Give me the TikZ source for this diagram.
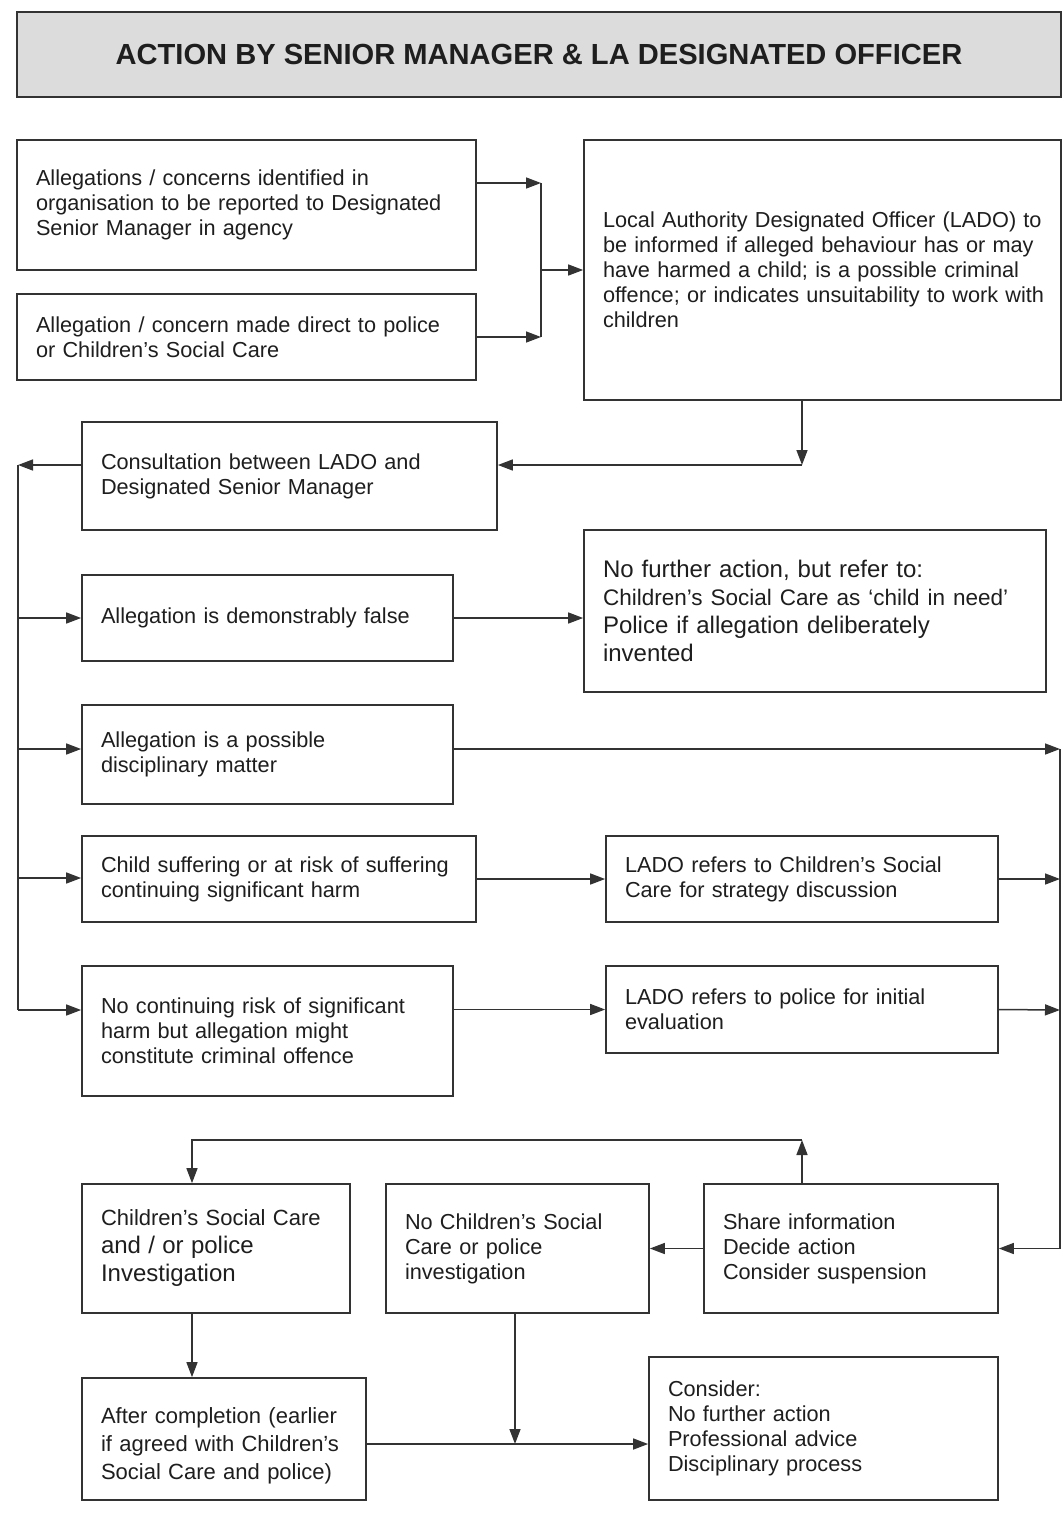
\documentclass[tikz,border=0pt]{standalone}
\usepackage{fontspec}
\setmainfont{Liberation Sans}
\usetikzlibrary{arrows.meta}
\definecolor{ln}{HTML}{333333}
\definecolor{tx}{HTML}{1E1E1E}
\definecolor{tgray}{HTML}{DCDCDC}
\newcommand\fsn{\fontsize{21.7}{25}\selectfont}
\newcommand\fsl{\fontsize{24}{28}\selectfont}
\newcommand\fsm{\fontsize{22}{28}\selectfont}
\begin{document}
\begin{tikzpicture}[x=1pt,y=-1pt,
  box/.style={draw=ln, line width=1.7pt, align=left, inner xsep=19pt, inner ysep=0pt,
    font=\fsn, text=tx},
  ttl/.style={draw=ln, line width=2pt, fill=tgray, inner sep=0pt,
    font=\fontsize{29.1}{32}\selectfont\bfseries, text=tx},
  arr/.style={draw=ln, line width=1.5pt, -{Triangle[length=15pt,width=11pt]}},
  ln/.style={draw=ln, line width=1.5pt}]
\useasboundingbox (0,0) rectangle (1063,1513);
\fill[white] (0,0) rectangle (1063,1513);

\node[ttl, minimum width=1044pt, minimum height=85pt] (title) at (539,54.5)
  {ACTION BY SENIOR MANAGER \& LA DESIGNATED OFFICER};

% boxes
\node[box, minimum width=459pt, minimum height=130pt, text width=421pt] (a1) at (246.5,205)
  {Allegations / concerns identified in\\organisation to be reported to Designated\\Senior Manager in agency};
\node[box, minimum width=459pt, minimum height=86pt, text width=421pt] (a2) at (246.5,337)
  {Allegation / concern made direct to police\\or Children’s Social Care};
\node[box, minimum width=477pt, minimum height=260pt, text width=439pt] (lado) at (822.5,270)
  {\mbox{Local Authority Designated Officer (LADO) to}\\\mbox{be informed if alleged behaviour has or may}\\\mbox{have harmed a child; is a possible criminal}\\\mbox{offence; or indicates unsuitability to work with}\\children};
\node[box, minimum width=415pt, minimum height=108pt, text width=377pt] (cons) at (289.5,476)
  {Consultation between LADO and\\Designated Senior Manager};
\node[box, minimum width=371pt, minimum height=86pt, text width=333pt] (fals) at (267.5,618)
  {Allegation is demonstrably false};
\node[box, minimum width=462pt, minimum height=162pt, text width=424pt, font=\fsl] (nfa) at (815,611)
  {\mbox{No further action, but refer to:}\\{\fontsize{22.5}{28}\selectfont\mbox{Children’s Social Care as ‘child in need’}}\\\mbox{Police if allegation deliberately}\\invented};
\node[box, minimum width=371pt, minimum height=99pt, text width=333pt] (disc) at (267.5,754.5)
  {Allegation is a possible\\disciplinary matter};
\node[box, minimum width=394pt, minimum height=86pt, text width=356pt] (child) at (279,879)
  {\mbox{Child suffering or at risk of suffering}\\continuing significant harm};
\node[box, minimum width=392pt, minimum height=86pt, text width=354pt] (ladocsc) at (802,879)
  {\mbox{LADO refers to Children’s Social}\\Care for strategy discussion};
\node[box, minimum width=371pt, minimum height=130pt, text width=333pt] (nocont) at (267.5,1031)
  {\mbox{No continuing risk of significant}\\harm but allegation might\\constitute criminal offence};
\node[box, minimum width=392pt, minimum height=87pt, text width=354pt] (ladopol) at (802,1009.5)
  {\mbox{LADO refers to police for initial}\\evaluation};
\node[box, minimum width=268pt, minimum height=129pt, text width=230pt, font=\fsm] (cscinv) at (216,1248.5)
  {\mbox{Children’s Social Care}\\{\fsl\mbox{and / or police}}\\{\fsl Investigation}};
\node[box, minimum width=263pt, minimum height=129pt, text width=225pt] (nocsc) at (517.5,1248.5)
  {\mbox{No Children’s Social}\\Care or police\\investigation};
\node[box, minimum width=294pt, minimum height=129pt, text width=256pt] (share) at (851,1248.5)
  {Share information\\Decide action\\Consider suspension};
\node[box, minimum width=284pt, minimum height=122pt, text width=246pt, font=\fsm] (after) at (224,1439)
  {\rule{0pt}{30pt}\mbox{After completion (earlier}\\\mbox{if agreed with Children’s}\\\mbox{Social Care and police)}};
\node[box, minimum width=349pt, minimum height=143pt, text width=311pt] (consider) at (823.5,1428.5)
  {Consider:\\No further action\\Professional advice\\Disciplinary process};

% junction coordinates
\coordinate (j1) at (541,183);
\coordinate (j2) at (541,337);
\coordinate (c1) at (802,465);
\coordinate (bL1) at (18,465);
\coordinate (bL2) at (18,618);
\coordinate (bL3) at (18,749);
\coordinate (bL4) at (18,878);
\coordinate (bL5) at (18,1010);
\coordinate (bR1) at (1060,749);
\coordinate (bR2) at (1060,879);
\coordinate (bR3) at (1060,1010);
\coordinate (bR4) at (1060,1248.5);
\coordinate (t1) at (802,1140);
\coordinate (t2) at (192,1140);
\coordinate (m1) at (515,1444);

% top merge
\draw[arr] (a1.east |- j1) -- (j1);
\draw[arr] (a2.east) -- (j2);
\draw[ln] (j1) -- (j2);
\draw[arr] (lado.west -| j1) -- (lado.west);

% LADO to consultation
\draw[arr] (lado.south -| c1) -- (c1);
\draw[arr] (c1) -- (cons.east |- c1);

% left bus
\draw[arr] (cons.west |- bL1) -- (bL1);
\draw[ln] (bL1) -- (bL5);
\draw[arr] (bL2) -- (fals.west |- bL2);
\draw[arr] (bL3) -- (disc.west |- bL3);
\draw[arr] (bL4) -- (child.west |- bL4);
\draw[arr] (bL5) -- (nocont.west |- bL5);

% middle row arrows
\draw[arr] (fals.east) -- (nfa.west |- fals.east);
\draw[arr] (disc.east |- bR1) -- (bR1);
\draw[arr] (child.east) -- (ladocsc.west);
\draw[arr] (ladocsc.east) -- (bR2);
\draw[arr] (nocont.east |- ladopol.west) -- (ladopol.west);
\draw[arr] (ladopol.east) -- (bR3);

% right bus
\draw[ln] (bR1) -- (bR4);
\draw[arr] (bR4) -- (share.east);

% bottom section
\draw[arr] (share.west) -- (nocsc.east);
\draw[arr] (share.north -| t1) -- (t1);
\draw[arr] (t1) -- (t2) -- (cscinv.north -| t2);
\draw[arr] (cscinv.south -| t2) -- (after.north -| t2);
\draw[arr] (after.east |- m1) -- (consider.west |- m1);
\draw[arr] (nocsc.south -| m1) -- (m1);
\end{tikzpicture}
\end{document}
